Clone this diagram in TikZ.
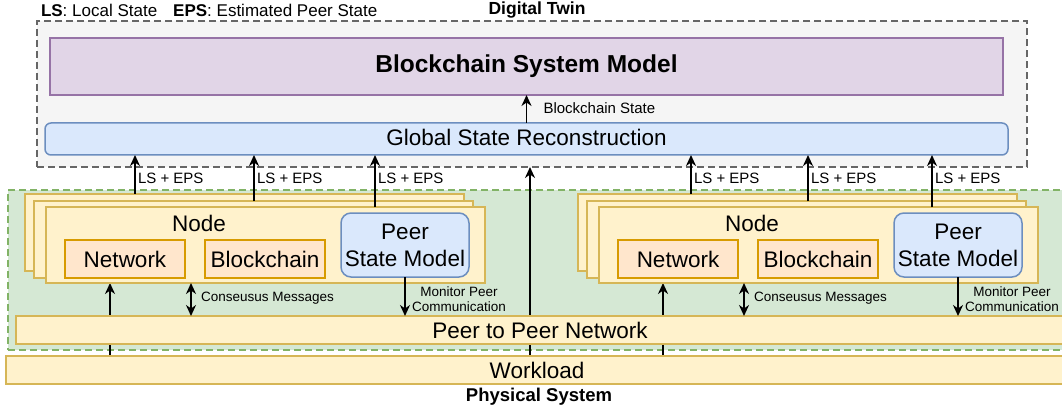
\documentclass[tikz,border=0pt]{standalone}
\usepackage{fontspec}
\setmainfont{Liberation Sans}
\usetikzlibrary{arrows.meta,calc}
\definecolor{dtfill}{HTML}{F5F5F5}\definecolor{dtline}{HTML}{666666}
\definecolor{pfill}{HTML}{E1D5E7}\definecolor{pline}{HTML}{9673A6}
\definecolor{bfill}{HTML}{DAE8FC}\definecolor{bline}{HTML}{6C8EBF}
\definecolor{yfill}{HTML}{FFF2CC}\definecolor{yline}{HTML}{D6B656}
\definecolor{ofill}{HTML}{FFE6CC}\definecolor{oline}{HTML}{D79B00}
\definecolor{gfill}{HTML}{D5E8D4}\definecolor{gline}{HTML}{82B366}
\newcommand\fsz[2]{\fontsize{#1}{#2}\selectfont}
\pgfdeclarelayer{lzero}\pgfdeclarelayer{lone}
\pgfsetlayers{lzero,lone,main}
\tikzset{
  >={Stealth[length=11pt,width=10pt,inset=3.5pt]},
  box/.style={draw, line width=1.5pt, inner sep=0pt, outer sep=0pt, anchor=north west, align=center, font=\fsz{22.5}{27}},
  dtbox/.style={box, draw=dtline, fill=dtfill, dash pattern=on 7pt off 4pt},
  grbox/.style={box, draw=gline, fill=gfill, dash pattern=on 7pt off 4pt},
  pbox/.style={box, draw=pline, fill=pfill},
  bbox/.style={box, draw=bline, fill=bfill},
  ybox/.style={box, draw=yline, fill=yfill},
  obox/.style={box, draw=oline, fill=ofill},
  txt/.style={inner sep=0pt, outer sep=0pt, align=center},
  lab/.style={txt, anchor=west, font=\fsz{15}{18}},
  small/.style={txt, font=\fsz{13.5}{15}},
  arr/.style={->, line width=1.7pt},
  darr/.style={<->, line width=1.7pt},
}
\begin{document}
\begin{tikzpicture}[x=1pt,y=-1pt]
\useasboundingbox (0,0) rectangle (1062,414);
\clip (0,0) rectangle (1062,414);
% legend and titles
\node[txt, anchor=west, font=\fsz{17}{20}] (legend) at (41,10) {\textbf{LS}: Local State\hspace{16pt}\textbf{EPS}: Estimated Peer State};
\node[txt, font=\fsz{17.5}{20}\bfseries] (dttitle) at (537,10) {Digital Twin};
\node[txt, font=\fsz{18.5}{21}\bfseries] (pstitle) at (539,397) {Physical System};
% digital twin
\begin{pgfonlayer}{lzero}
\node[dtbox, minimum width=990, minimum height=146] (dt) at (37,21) {};
\node[grbox, minimum width=1062, minimum height=160] (ps) at (8,190) {};
\end{pgfonlayer}
\node[pbox, minimum width=953, minimum height=57, font=\fsz{24.5}{28}\bfseries] (bsm) at (50,38) {Blockchain System Model};
\node[bbox, rounded corners=6pt, minimum width=963, minimum height=32, text depth=3pt] (gsr) at (45,123) {Global State Reconstruction};
\draw[arr] (gsr.north -| bsm.south) -- (bsm.south);
\node[lab] (bslab) at ($(bsm.south)+(17,13)$) {Blockchain State};
% physical system
\node[ybox, minimum width=1048, minimum height=28] (p2p) at (16,316) {Peer to Peer Network};
\node[ybox, minimum width=1062, minimum height=28] (wl) at (6,356) {Workload};
\coordinate (ca) at ([xshift=-7pt]wl.north);
\begin{pgfonlayer}{lone}
\draw[arr] (ca) -- (ca |- dt.south);
\end{pgfonlayer}
\foreach \s/\ox/\la/\lb/\lc in {L/0/110/220/329, R/553/113/221/333}{
  \node[ybox, minimum width=439, minimum height=77] (back\s) at ({25+\ox},194) {};
  \node[ybox, minimum width=439, minimum height=77] (mid\s) at ({34+\ox},201) {};
  \node[ybox, minimum width=439, minimum height=76] (front\s) at ({46+\ox},207) {};
  \node[txt, font=\fsz{22.5}{27}] (nodet\s) at ($(front\s.north west)+(153,16)$) {Node};
  \node[obox, minimum width=120, minimum height=38] (net\s) at ($(front\s.north west)+(19,33)$) {Network};
  \node[obox, minimum width=120, minimum height=38] (bc\s) at ($(front\s.north west)+(159,33)$) {Blockchain};
  \node[bbox, rounded corners=10pt, minimum width=128, minimum height=64] (psm\s) at ($(front\s.north west)+(295,6)$) {Peer\\State Model};
  % network arrow from workload
  \coordinate (na\s) at ([xshift=64pt]front\s.south west);
  \begin{pgfonlayer}{lone}
  \draw[arr] (na\s |- wl.north) -- (na\s);
  \end{pgfonlayer}
  % consensus
  \coordinate (cs\s) at ([xshift=145pt]front\s.south west);
  \draw[darr] (cs\s) -- (cs\s |- p2p.north);
  \node[small, anchor=west] (cslab\s) at ($(cs\s)+(10,15)$) {Conseusus Messages};
  % monitor
  \draw[arr] (psm\s.south) -- (psm\s.south |- p2p.north);
  \node[small] (mlab\s) at ($(psm\s.south)+(54,22.5)$) {Monitor Peer\\Communication};
  % LS + EPS
  \coordinate (la\s) at ([xshift=\la pt]back\s.north west);
  \coordinate (lb\s) at ([xshift=\lb pt]mid\s.north west);
  \coordinate (lc\s) at ([xshift=\lc pt]front\s.north west);
  \foreach \c in {la,lb,lc}{
    \draw[arr] (\c\s) -- (\c\s |- gsr.south);
    \node[lab] at ($(\c\s |- gsr.south)+(3,23)$) {LS + EPS};
  }
}
\end{tikzpicture}
\end{document}
